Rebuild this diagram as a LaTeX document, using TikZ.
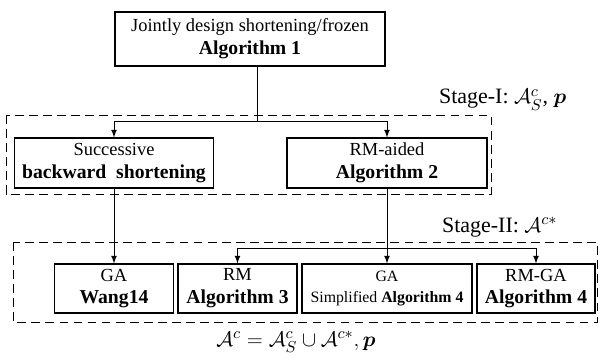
\documentclass[tikz,border=0pt]{standalone}
\usepackage{amsmath}
\usepackage{amssymb}
\usepackage{bm}
\usepackage{fontspec}
\setmainfont{Liberation Serif}
\usepackage{tikz}
\usetikzlibrary{arrows, positioning}
\newcommand{\algname}[1]{{\fontsize{11.2}{13}\selectfont\textbf{#1}}}
\tikzstyle{algbox} = [rectangle, draw=black, line width=0.7pt, align=center, inner sep=1pt, text centered, font=\fontsize{10.5}{13}\selectfont]
\tikzstyle{stagebox} = [draw=black, line width=0.5pt, dash pattern=on 5pt off 3pt]
\tikzstyle{arrow} = [line width=0.5pt,->,>=latex]
\tikzstyle{link} = [line width=0.5pt]
\tikzstyle{stagelabel} = [anchor=west, inner sep=1pt, font=\fontsize{12.5}{14}\selectfont]

\begin{document}
\begin{tikzpicture}[x=0.02cm, y=-0.02cm]

    \useasboundingbox (0,0) rectangle (600,358);

    \node (alg1) [algbox, minimum width=5.4cm, minimum height=1.08cm] at (250,39) {Jointly design shortening/frozen\\\algname{Algorithm 1}};

    \node (succ) [algbox, minimum width=3.98cm, minimum height=1cm] at (114,163) {Successive\\\algname{backward\ \ shortening}};
    \node (rmaided) [algbox, minimum width=4cm, minimum height=1cm] at (387,163) {RM-aided\\\algname{Algorithm 2}};

    \node (wang) [algbox, minimum width=2.38cm, minimum height=0.98cm] at (114,288.5) {GA\\\algname{Wang14}};
    \node (alg3) [algbox, minimum width=2.38cm, minimum height=0.98cm] at (237.5,288.5) {RM\\\algname{Algorithm 3}};
    \node (alg4s) [algbox, minimum width=3.4cm, minimum height=0.98cm, font=\fontsize{9}{12}\selectfont] at (387,288.5) {GA\\Simplified \textbf{Algorithm 4}};
    \node (rmga) [algbox, minimum width=2.36cm, minimum height=0.98cm] at (536,288.5) {RM-GA\\\algname{Algorithm 4}};

    % stage frames
    \draw [stagebox] (6,115) rectangle (491,194);
    \draw [stagebox] (13,242) rectangle (597,322);

    \node (stage1) [stagelabel] at (437,100) {Stage-I: $\mathcal{A}_S^c$, $\bm{p}$};
    \node (stage2) [stagelabel] at (440,227) {Stage-II: $\mathcal{A}^{c*}$};
    \node (result) [inner sep=1pt, font=\fontsize{12.5}{14}\selectfont] at (296,342) {$\mathcal{A}^c = \mathcal{A}_S^c \cup \mathcal{A}^{c*}, \bm{p}$};

    \coordinate (split1) at (257,121);
    \coordinate (split2) at (387,248);

    \draw [link] (alg1.south -| split1) -- (split1);
    \draw [arrow] (split1) -| (succ);
    \draw [arrow] (split1) -| (rmaided);

    \draw [arrow] (succ) -- (wang);
    \draw [arrow] (rmaided) -- (alg4s);
    \draw [arrow] (split2) -| (alg3);
    \draw [arrow] (split2) -| (rmga);

\end{tikzpicture}
\end{document}
